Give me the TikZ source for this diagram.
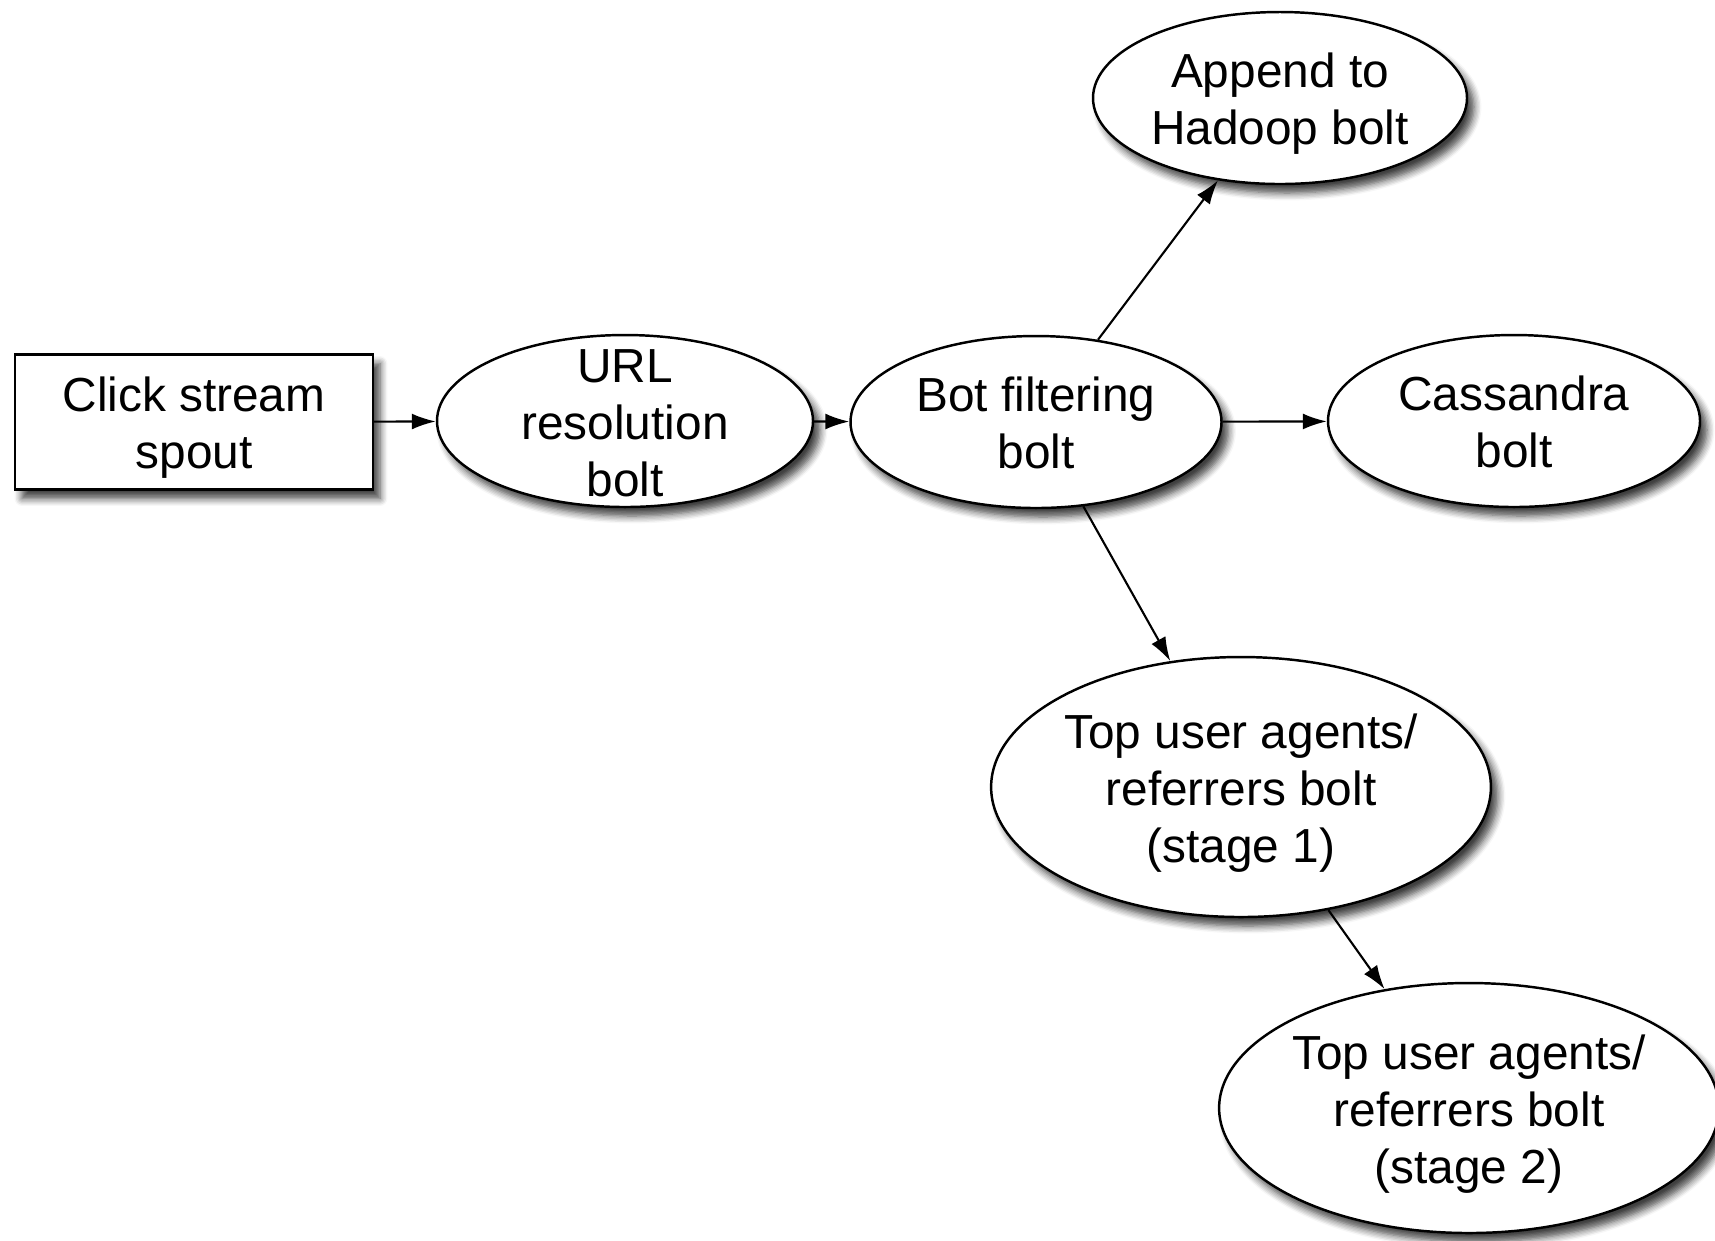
\documentclass[tikz,border=0pt]{standalone}
\usepackage{fontspec}
\setmainfont{Liberation Sans}
\usetikzlibrary{shapes.geometric,arrows.meta,shadows.blur}

% stacked lines that do not blow up the ellipse size
\newcommand{\stagetext}[1]{\smash{\raisebox{-5.6pt}{\begin{tabular}{@{}c@{}}#1\end{tabular}}}}

\begin{document}
\begin{tikzpicture}[
    comp/.style={draw, line width=0.7pt, fill=white, inner sep=0pt,
        font=\fontsize{13.6}{16.2}\selectfont,
        blur shadow={shadow xshift=0.7mm, shadow yshift=-0.9mm,
            shadow blur steps=6, shadow opacity=75}},
    spoutbox/.style={comp, rectangle},
    boltnode/.style={comp, ellipse},
    link/.style={-{Latex[length=2.4mm,width=1.6mm]}, line width=0.6pt}
]

% Page size
\useasboundingbox (0,0) rectangle (17.15,-12.40);

% Spout
\node[spoutbox, minimum width=3.58cm, minimum height=1.35cm] (spout) at (1.94,-4.22)
    {\stagetext{Click stream\\spout}};

% Bolts along the main line
\node[boltnode, minimum width=3.76cm, minimum height=1.72cm] (url) at (6.25,-4.21)
    {\stagetext{URL\\resolution\\bolt}};
\node[boltnode, minimum width=3.71cm, minimum height=1.72cm] (filter) at (10.36,-4.22)
    {\stagetext{Bot filtering\\bolt}};
\node[boltnode, minimum width=3.72cm, minimum height=1.72cm] (cassandra) at (15.14,-4.21)
    {\stagetext{Cassandra\\bolt}};

% Branches off the filter
\node[boltnode, minimum width=3.74cm, minimum height=1.72cm] (hadoop) at (12.80,-0.98)
    {\stagetext{Append to\\Hadoop bolt}};
\node[boltnode, minimum width=4.82cm, minimum height=2.60cm] (stage1) at (12.41,-7.87)
    {\stagetext{Top user agents/\\referrers bolt\\(stage 1)}};
\node[boltnode, minimum width=4.92cm, minimum height=2.50cm] (stage2) at (14.69,-11.08)
    {\stagetext{Top user agents/\\referrers bolt\\(stage 2)}};

% Streams
\draw[link] (spout) -- (url);
\draw[link] (url) -- (filter);
\draw[link] (filter) -- (cassandra);
\draw[link] (filter) -- (hadoop);
\draw[link] (filter) -- (stage1);
\draw[link] (stage1) -- (stage2);

\end{tikzpicture}
\end{document}
